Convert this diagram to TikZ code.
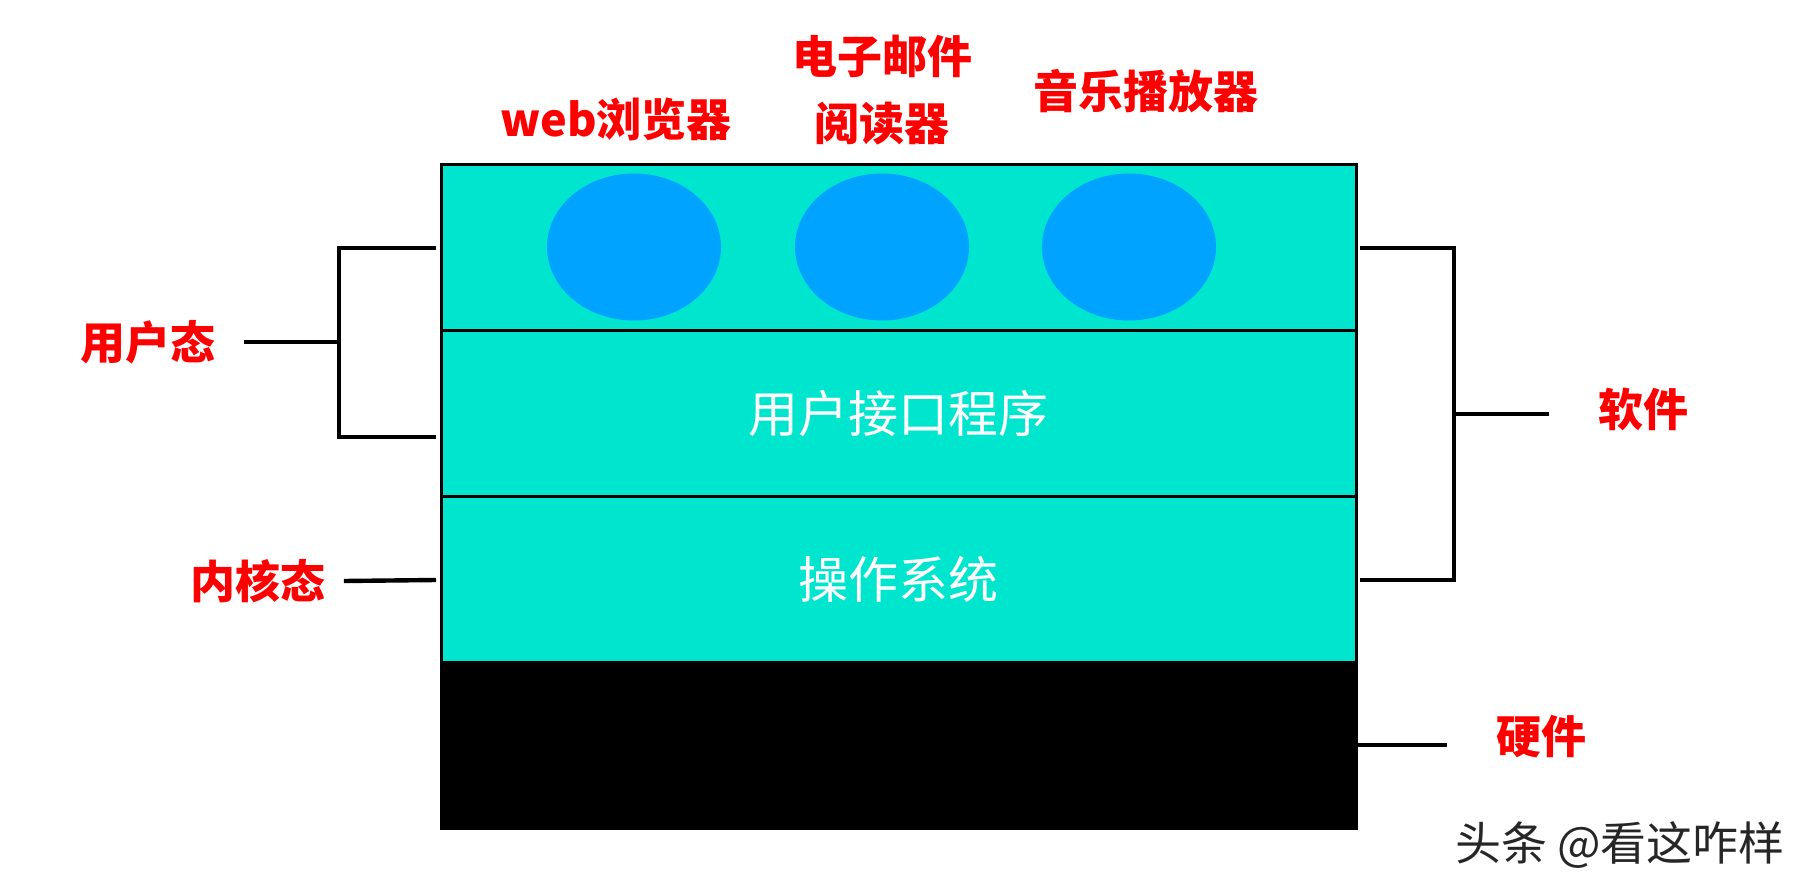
\documentclass[tikz,border=0pt]{standalone}
\usepackage{fontspec}
\setmainfont{Noto Sans CJK SC}
\usetikzlibrary{positioning,shapes.geometric}
\definecolor{layerteal}{RGB}{0,230,206}
\definecolor{appblue}{RGB}{0,163,255}
\definecolor{labelred}{RGB}{255,0,0}
\begin{document}
\begin{tikzpicture}[x=0.5pt, y=-0.5pt,
    layer/.style = {draw=black, line width=1.5pt, fill=layerteal, outer sep=0pt,
      minimum width=457.5pt, minimum height=83pt, text=white, font=\fontsize{25}{30}\selectfont},
    hwbox/.style = {layer, fill=black},
    app/.style = {ellipse, fill=appblue, minimum width=87pt, minimum height=73.5pt, inner sep=0pt},
    redlbl/.style = {text=labelred, inner sep=0pt, font=\fontsize{22.5}{33.5}\selectfont\bfseries},
    bracket/.style = {line width=2.2pt}]
    \useasboundingbox (0,0) rectangle (1815,893);
    \node[layer] (apps) at (898.5,247.5) {};
    \node[layer] (ui) [below=0pt of apps] {用户接口程序};
    \node[layer] (os) [below=0pt of ui] {操作系统};
    \node[hwbox] (hw) [below=0pt of os] {};
    \node[app] (web) at (634,247) {};
    \node[app] (mail) at (882,247) {};
    \node[app] (music) at (1129,247) {};
    \node[redlbl] (weblbl) at (616,119) {web浏览器};
    \node[redlbl, align=center] (maillbl) at (882,90) {电子邮件\\阅读器};
    \node[redlbl] (musiclbl) at (1146,91) {音乐播放器};
    \node[redlbl] (userlbl) at (148,342) {用户态};
    \node[redlbl] (kernlbl) at (258,581) {内核态};
    \node[redlbl] (softlbl) at (1643,409) {软件};
    \node[redlbl] (hardlbl) at (1541,737) {硬件};
    \node[text=black!85, inner sep=0pt, font=\fontsize{23}{28}\selectfont] (mark) at (1620,845) {头条 @看这咋样};
    % brackets
    \coordinate (ulTop) at (436,248);
    \coordinate (ulMid) at (339,342);
    \coordinate (ulBot) at (436,437);
    \draw[bracket] (ulTop) -| (ulMid) |- (ulBot);
    \draw[bracket] ([xshift=14pt]userlbl.east) -- (ulMid);
    \draw[bracket] ([xshift=9pt]kernlbl.east) -- (436,580);
    \coordinate (swTop) at (1360,248);
    \coordinate (swMid) at (1454,414);
    \coordinate (swBot) at (1360,580);
    \draw[bracket] (swTop) -| (swMid) |- (swBot);
    \draw[bracket] (swMid) -- (1549,414);
    \draw[bracket] (hw.east |- 0,745) -- (1447,745);
  \end{tikzpicture}
\end{document}
